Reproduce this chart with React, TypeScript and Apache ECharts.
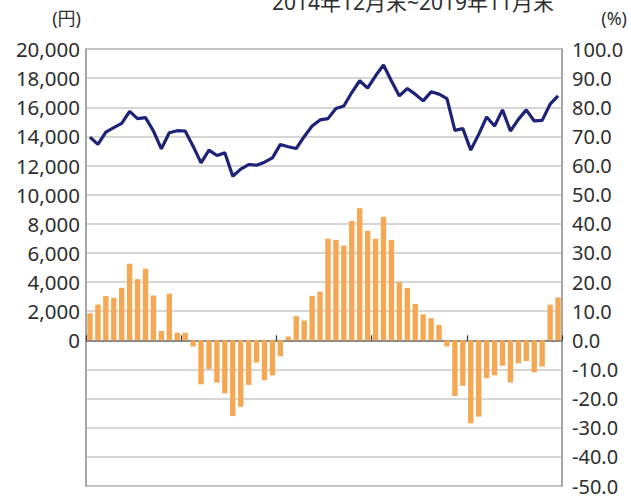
import React, { useEffect, useRef } from "react";
import * as echarts from "echarts";

const categories = [
  "2014/12",
  "2015/01","2015/02","2015/03","2015/04","2015/05","2015/06","2015/07","2015/08","2015/09","2015/10","2015/11","2015/12",
  "2016/01","2016/02","2016/03","2016/04","2016/05","2016/06","2016/07","2016/08","2016/09","2016/10","2016/11","2016/12",
  "2017/01","2017/02","2017/03","2017/04","2017/05","2017/06","2017/07","2017/08","2017/09","2017/10","2017/11","2017/12",
  "2018/01","2018/02","2018/03","2018/04","2018/05","2018/06","2018/07","2018/08","2018/09","2018/10","2018/11","2018/12",
  "2019/01","2019/02","2019/03","2019/04","2019/05","2019/06","2019/07","2019/08","2019/09","2019/10","2019/11",
];

// 株価 (円)
const priceValues = [
  13950, 13450, 14300, 14600, 14900, 15720, 15220, 15290, 14370, 13150, 14250, 14390,
  14370, 13330, 12180, 13060, 12690, 12870, 11260, 11750, 12070, 12020, 12230, 12530,
  13450, 13290, 13170, 13980, 14710, 15130, 15220, 15910, 16090, 17010, 17820, 17310,
  18160, 18900, 17800, 16780, 17290, 16900, 16440, 17060, 16900, 16600, 14410, 14530,
  13060, 14140, 15330, 14710, 15820, 14370, 15170, 15820, 15060, 15100, 16210, 16780,
];

// 前年同月比 (%)
const changeValues = [
  9.3, 12.3, 15.2, 14.6, 18.0, 26.3, 21.0, 24.6, 15.4, 3.2, 16.0, 2.6,
  2.6, -2.1, -15.1, -9.9, -14.5, -18.2, -26.0, -22.8, -15.3, -7.6, -13.7, -12.0,
  -5.5, 1.3, 8.3, 6.8, 15.2, 16.7, 34.9, 34.5, 32.5, 41.0, 45.3, 37.6,
  34.9, 42.4, 34.4, 20.0, 18.0, 12.5, 8.9, 7.6, 5.3, -2.1, -19.1, -15.6,
  -28.5, -26.2, -13.0, -12.0, -8.7, -14.5, -7.9, -7.1, -11.0, -9.0, 12.2, 14.7,
];

const titleText = "2014年12月末~2019年11月末";
const leftUnit = "(円)";
const rightUnit = "(%)";

const FONT = "'Noto Sans', 'Noto Sans CJK JP', sans-serif";
const TEXT = "#2e2e2e";

export default function App() {
  const ref = useRef<HTMLDivElement>(null);
  useEffect(() => {
    if (!ref.current) return;
    const chart = echarts.init(ref.current, null, { renderer: "svg" });
    chart.setOption({
      animation: false,
      backgroundColor: "#ffffff",
      textStyle: { fontFamily: FONT },
      grid: {
        left: 86,
        right: 69,
        top: 49,
        bottom: 12,
        show: true,
        borderColor: "#a0a0a0",
        borderWidth: 1.5,
        containLabel: false,
      },
      graphic: [
        {
          type: "text",
          x: 413,
          y: -9,
          style: { text: titleText, fontSize: 21, fill: TEXT, fontFamily: FONT, align: "center", verticalAlign: "top" },
        },
        {
          type: "text",
          x: 81,
          y: 9,
          style: { text: leftUnit, fontSize: 18, fill: TEXT, fontFamily: FONT, align: "right", verticalAlign: "top" },
        },
        {
          type: "text",
          x: 627,
          y: 9,
          style: { text: rightUnit, fontSize: 18, fill: TEXT, fontFamily: FONT, align: "right", verticalAlign: "top" },
        },
      ],
      xAxis: {
        type: "category",
        data: categories,
        boundaryGap: true,
        axisLine: { show: true, onZero: true, lineStyle: { color: "#6e6e6e", width: 1.5 } },
        axisTick: { show: true, inside: true, interval: 11, length: 5, lineStyle: { color: "#333", width: 1.2 } },
        axisLabel: { show: false },
        splitLine: { show: false },
      },
      yAxis: [
        {
          type: "value",
          min: -10000,
          max: 20000,
          interval: 2000,
          axisLine: { show: true, lineStyle: { color: "#a0a0a0", width: 1.5 } },
          axisTick: { show: false },
          splitLine: { show: true, lineStyle: { color: "#c8c8c8", width: 1.5 } },
          axisLabel: {
            margin: 6,
            fontSize: 20.5,
            color: TEXT,
            fontFamily: FONT,
            formatter: (v: number) => (v < 0 ? "" : v.toLocaleString("en-US")),
          },
        },
        {
          type: "value",
          min: -50,
          max: 100,
          interval: 10,
          axisLine: { show: true, lineStyle: { color: "#a0a0a0", width: 1.5 } },
          axisTick: { show: false },
          splitLine: { show: false },
          axisLabel: {
            margin: 10,
            fontSize: 20,
            color: TEXT,
            fontFamily: FONT,
            formatter: (v: number) => v.toFixed(1),
          },
        },
      ],
      series: [
        {
          type: "bar",
          yAxisIndex: 1,
          data: changeValues,
          barCategoryGap: "32%",
          itemStyle: { color: "#f4a853" },
          z: 2,
        },
        {
          type: "line",
          yAxisIndex: 0,
          data: priceValues,
          symbol: "none",
          lineStyle: { color: "#1e2277", width: 3.2 },
          z: 3,
        },
      ],
    });
    return () => chart.dispose();
  }, []);
  return (
    <div
      ref={ref}
      style={{ position: "fixed", left: 0, top: 0, width: 631, height: 498 }}
    />
  );
}
